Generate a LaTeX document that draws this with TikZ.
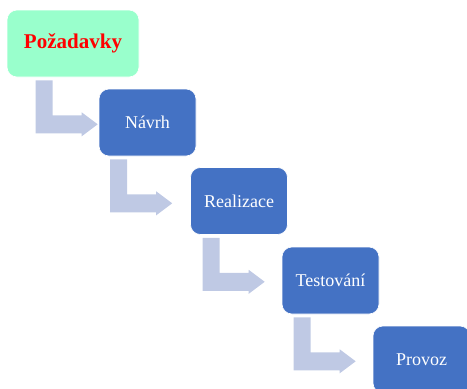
\documentclass[tikz,border=0pt]{standalone}
\usepackage{fontspec}
\setmainfont{Liberation Serif}
\usetikzlibrary{calc}
\definecolor{stageblue}{RGB}{68,114,196}
\definecolor{startgreen}{RGB}{153,255,204}
\definecolor{flowgrey}{RGB}{191,201,228}
\tikzset{
  stagebox/.style={rectangle, rounded corners=10pt, fill=stageblue, draw=white,
    line width=0.6pt, minimum width=97pt, minimum height=67pt, inner sep=0pt,
    text=white, font=\fontsize{18}{20}\selectfont},
  startbox/.style={stagebox, fill=startgreen, minimum width=132pt,
    text=red, font=\fontsize{21}{24}\selectfont\bfseries},
  pics/bentarrow/.style={code={
    \fill[flowgrey] (0,0) -- (17,0) -- (17,35) -- (46,35) -- (46,32)
      -- (62,44) -- (46,56) -- (46,53) -- (0,53) -- cycle;
  }}
}
\begin{document}
\begin{tikzpicture}[x=1pt, y=-1pt]
\useasboundingbox (0,0) rectangle (467,389);
\clip (0,0) rectangle (467,389);
\node[startbox] (req)  at (73,43.5)    {Požadavky};
\node[stagebox] (des)  at (147.5,122.5) {Návrh};
\node[stagebox] (impl) at (239,201)     {Realizace};
\node[stagebox] (test) at (330.5,280.5) {Testování};
\node[stagebox] (ops)  at (421.5,359.5) {Provoz};
% bent flow arrows hanging below each stage
\pic at ($(req.south west)+(29,3)$)  {bentarrow};
\pic at ($(des.south west)+(11.5,3)$) {bentarrow};
\pic at ($(impl.south west)+(12.5,3)$) {bentarrow};
\pic at ($(test.south west)+(12,3)$) {bentarrow};
\end{tikzpicture}
\end{document}
